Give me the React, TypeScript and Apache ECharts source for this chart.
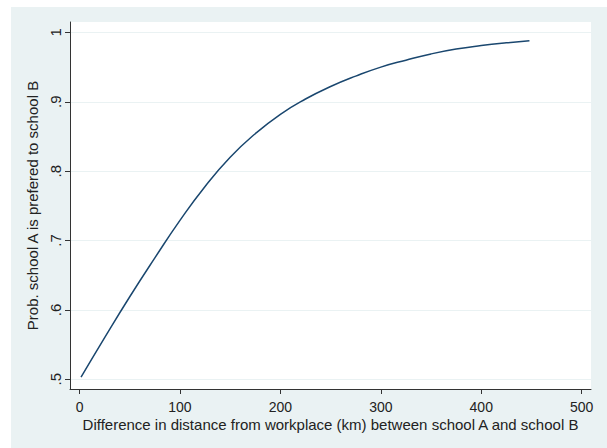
import React, { useEffect, useRef } from "react";
import * as echarts from "echarts";

const distanceKm = [1.5, 25, 50, 75, 100, 125, 150, 175, 200, 225, 250, 275, 300, 325, 350, 375, 400, 425, 448];
const probA = [0.503, 0.560, 0.619, 0.675, 0.729, 0.778, 0.820, 0.854, 0.882, 0.904, 0.922, 0.937, 0.950, 0.960, 0.969, 0.976, 0.981, 0.985, 0.988];
const xTicks = [0, 100, 200, 300, 400, 500];
const yTicks = [0.5, 0.6, 0.7, 0.8, 0.9, 1];

export default function App() {
  const ref = useRef<HTMLDivElement>(null);
  useEffect(() => {
    if (!ref.current) return;
    const chart = echarts.init(ref.current, undefined, { renderer: "svg" });
    const font = "Liberation Sans, Arial, sans-serif";
    chart.setOption({
      animation: false,
      backgroundColor: "#ffffff",
      graphic: [
        {
          type: "rect",
          z: -10,
          shape: { x: 11, y: 7, width: 596, height: 441 },
          style: { fill: "#eaf2f3" },
          silent: true,
        },
      ],
      grid: {
        left: 70,
        right: 16,
        top: 22,
        bottom: 59,
        show: true,
        backgroundColor: "#ffffff",
        borderWidth: 0,
      },
      xAxis: {
        type: "value",
        min: -9.5,
        max: 509.3,
        name: "Difference in distance from workplace (km) between school A and school B",
        nameLocation: "middle",
        nameGap: 29,
        nameMoveOverlap: false,
        nameTextStyle: { fontFamily: font, fontSize: 15, lineHeight: 13, color: "#222" },
        axisLine: { show: true, onZero: false, lineStyle: { color: "#333", width: 1 } },
        axisTick: { show: true, length: 5, customValues: xTicks, lineStyle: { color: "#333" } },
        axisLabel: {
          customValues: xTicks,
          margin: 11,
          fontFamily: font,
          fontSize: 14,
          lineHeight: 13,
          color: "#222",
        },
        splitLine: { show: false },
      },
      yAxis: {
        type: "value",
        min: 0.486,
        max: 1.015,
        name: "Prob. school A is prefered to school B",
        nameLocation: "middle",
        nameRotate: 90,
        nameGap: 30,
        nameMoveOverlap: false,
        nameTextStyle: { fontFamily: font, fontSize: 15, color: "#222" },
        axisLine: { show: true, onZero: false, lineStyle: { color: "#333", width: 1 } },
        axisTick: { show: true, length: 5, customValues: yTicks, lineStyle: { color: "#333" } },
        axisLabel: {
          customValues: yTicks,
          rotate: 90,
          margin: 7,
          fontFamily: font,
          fontSize: 15,
          color: "#222",
          formatter: (v: number) => {
            const s = String(Math.round(v * 10) / 10);
            return s.startsWith("0.") ? s.slice(1) : s;
          },
        },
        splitLine: { show: true, lineStyle: { color: "#eaf2f3", width: 1 } },
      },
      series: [
        {
          type: "line",
          data: distanceKm.map((d, i) => [d, probA[i]]),
          smooth: true,
          showSymbol: false,
          lineStyle: { color: "#1a476f", width: 1.5 },
        },
      ],
    });
    return () => chart.dispose();
  }, []);
  return (
    <div
      ref={ref}
      style={{ position: "fixed", left: 0, top: 0, width: 607, height: 448 }}
    />
  );
}
